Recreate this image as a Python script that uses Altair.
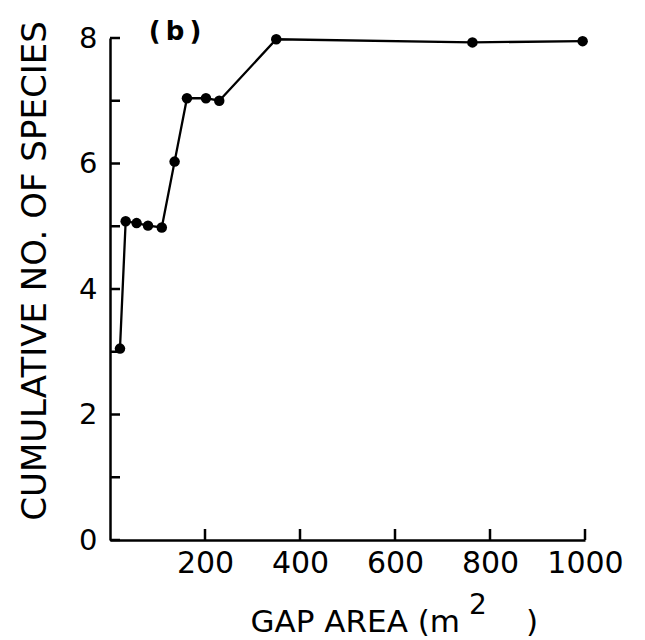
import altair as alt
import pandas as pd

# Cumulative number of species against gap area
gap_area = [21, 33, 56, 80, 109, 136, 162, 202, 230, 350, 763, 995]
cum_species = [3.05, 5.08, 5.05, 5.01, 4.98, 6.03, 7.04, 7.04, 7.0, 7.98, 7.93, 7.95]

x_ticks = [200, 400, 600, 800, 1000]
y_labels = [0, 2, 4, 6, 8]
y_ticks = [0, 1, 2, 3, 4, 5, 6, 7, 8]

FONT = "DejaVu Sans"
W, H = 475, 502

df = pd.DataFrame({"x": gap_area, "y": cum_species})
xt = pd.DataFrame({"x": x_ticks})
yt = pd.DataFrame({"y": y_ticks})

x_scale = alt.Scale(domain=[0, 1000], nice=False, zero=False)
y_scale = alt.Scale(domain=[0, 8], nice=False)

x_axis = alt.Axis(values=x_ticks, ticks=False, tickSize=0, grid=False, title=None,
                  format="d", labelOverlap=False, labelFlush=False,
                  domainColor="black", domainWidth=2.5, labelFontSize=30,
                  labelColor="black", labelFont=FONT, labelPadding=8)
y_axis = alt.Axis(values=y_labels, ticks=False, tickSize=0, grid=False, title=None,
                  format="d", labelOverlap=False, labelFlush=False,
                  domainColor="black", domainWidth=2.5, labelFontSize=29,
                  labelColor="black", labelFont=FONT, labelPadding=13)


def X(field="x"):
    return alt.X(f"{field}:Q", scale=x_scale, axis=x_axis)


def Y(field="y"):
    return alt.Y(f"{field}:Q", scale=y_scale, axis=y_axis)


line = alt.Chart(df).mark_line(color="black", strokeWidth=2.3).encode(x=X(), y=Y())
dots = alt.Chart(df).mark_circle(color="black", size=110, opacity=1).encode(x=X(), y=Y())

# inward ticks on both axes
y_tick_marks = alt.Chart(yt).mark_rule(color="black", strokeWidth=2.5).encode(
    y=Y(), x=alt.value(0), x2=alt.value(10))
x_tick_marks = alt.Chart(xt).mark_rule(color="black", strokeWidth=2.5).encode(
    x=X(), y=alt.value(H), y2=alt.value(H - 11))


def label(text, x, y, size, align="center", baseline="middle", angle=0, weight="normal"):
    return alt.Chart(pd.DataFrame({"t": [text]})).mark_text(
        font=FONT, fontSize=size, color="black", align=align, baseline=baseline,
        angle=angle, fontWeight=weight).encode(
        text="t:N", x=alt.value(x), y=alt.value(y))


panel = label("(\u2009b\u2009)", 65, -6, 26, weight="bold")
y_title = label("CUMULATIVE NO. OF SPECIES", -74, 233, 34, angle=270)
x_title = label("GAP AREA (m", 350, 594, 31, align="right", baseline="alphabetic")
x_sup = label("2", 368, 576, 28, baseline="alphabetic")
x_close = label(")", 422, 594, 31, baseline="alphabetic")

chart = alt.layer(
    line, dots, y_tick_marks, x_tick_marks, panel, y_title, x_title, x_sup, x_close
).properties(
    width=W, height=H,
    autosize=alt.AutoSizeParams(type="none"),
    padding={"left": 110, "top": 38, "right": 60, "bottom": 100},
    background="white",
).configure_view(strokeWidth=0)

chart.save("out.html", embed_options={"renderer": "svg", "actions": False})
